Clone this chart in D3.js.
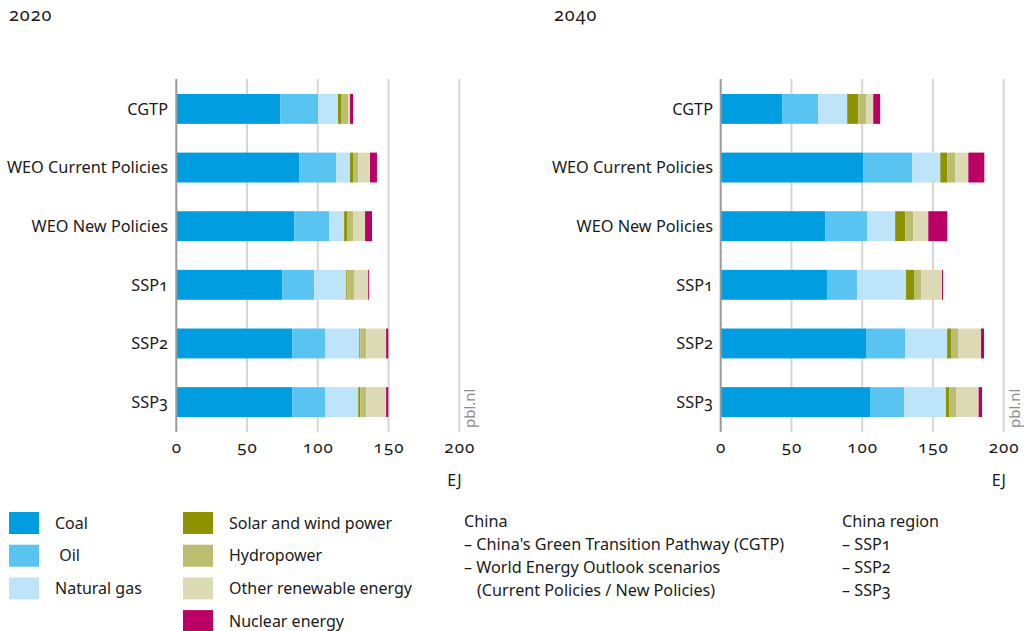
<!DOCTYPE html>
<html><head><meta charset="utf-8">
<script src="https://cdn.jsdelivr.net/npm/d3@7"></script>
<style>
body{margin:0;background:#fff;}
svg{font-family:"Noto Sans",sans-serif;font-variant-numeric:oldstyle-nums;font-feature-settings:"onum" 1;}
</style></head><body>
<svg id="c" width="1024" height="631"></svg>
<script>
const categories = ["CGTP","WEO Current Policies","WEO New Policies","SSP1","SSP2","SSP3"];
const sources = ["Coal","Oil","Natural gas","Solar and wind power","Hydropower","Other renewable energy","Nuclear energy"];
const legendLabels = ["Coal"," Oil","Natural gas","Solar and wind power","Hydropower","Other renewable energy","Nuclear energy"];
const colors = ["#009ee0","#59c4f1","#bee4f9","#8c9200","#bbbd71","#dcdbb6","#ba0064"];
const years = ["2020","2040"];
// values per category, order of sources (EJ)
const values2020 = [
  [73.4,26.8,14.1,2.1,5.2,1.2,2.1],
  [86.8,26.1,9.9,2.1,3.5,8.5,4.9],
  [83.3,24.7,10.6,2.1,4.2,8.5,4.9],
  [74.9,22.6,22.6,0.7,4.9,9.9,0.7],
  [81.9,23.3,24.1,0.7,4.2,14.1,1.5],
  [81.9,23.3,23.4,1.4,4.2,14.1,1.5]
];
const values2040 = [
  [43.4,25.5,20.5,7.8,5.6,5.0,4.9],
  [100.7,34.7,19.8,4.9,5.7,9.2,11.3],
  [73.8,29.7,19.8,7.1,5.7,10.6,13.4],
  [75.1,21.2,34.7,5.6,5.0,14.8,0.7],
  [102.7,27.6,29.7,2.8,4.9,16.3,2.1],
  [105.5,24.1,29.6,2.2,4.9,16.0,2.4]
];
const xTicks = [0,50,100,150,200];
const unit = "EJ";
const sourceLabel = "pbl.nl";
const noteLeft = ["China","– China's Green Transition Pathway (CGTP)","– World Energy Outlook scenarios","(Current Policies / New Policies)"];
const noteRight = ["China region","– SSP1","– SSP2","– SSP3"];

const svg = d3.select("#c");
const panels = [
  {year:years[0], data:values2020, x0:176.3, titleX:9, labelX:168},
  {year:years[1], data:values2040, x0:720.7, titleX:554, labelX:713}
];
const plotTop = 79, plotBottom = 432;

panels.forEach(p=>{
  const g = svg.append("g");
  const x = d3.scaleLinear().domain([0,200]).range([p.x0, p.x0+283]);
  const y = d3.scaleBand().domain(categories).range([plotTop,plotBottom]).paddingInner(0.49).paddingOuter(0.255);
  g.append("text").attr("x",p.titleX).attr("y",21).attr("font-size",18).attr("fill","#1a1a1a").attr("letter-spacing","1").text(p.year);
  g.selectAll("line.grid").data(xTicks.slice(1)).join("line")
    .attr("x1",d=>x(d)).attr("x2",d=>x(d)).attr("y1",plotTop).attr("y2",plotBottom)
    .attr("stroke","#d6d6d6").attr("stroke-width",2);
  p.data.forEach((row,i)=>{
    const stacked = d3.stack().keys(d3.range(row.length))([row]);
    stacked.forEach((s,k)=>{
      const d = s[0];
      g.append("rect").attr("x",x(d[0])).attr("width",x(d[1])-x(d[0]))
        .attr("y",y(categories[i])).attr("height",y.bandwidth()).attr("fill",colors[k]);
    });
  });
  g.append("line").attr("x1",x(0)).attr("x2",x(0)).attr("y1",plotTop).attr("y2",plotBottom)
    .attr("stroke","#9a9a9a").attr("stroke-width",2);
  g.selectAll("text.cat").data(categories).join("text")
    .attr("x",p.labelX).attr("y",d=>y(d)+y.bandwidth()/2).attr("dy","0.35em")
    .attr("text-anchor","end").attr("font-size",16.3).attr("fill","#1a1a1a").text(d=>d);
  const ax = d3.axisBottom(x).tickValues(xTicks).tickSize(0).tickPadding(0);
  const axg = g.append("g").attr("transform",`translate(0,${plotBottom+9})`).call(ax);
  axg.select(".domain").remove();
  axg.selectAll("text").attr("font-size",17).attr("fill","#1a1a1a").attr("font-family","Noto Sans").attr("letter-spacing","1");
  g.append("text").attr("x",x(200)-12).attr("y",486).attr("font-size",16).attr("fill","#1a1a1a").text(unit);
  g.append("text").attr("transform",`translate(${x(200)+16},${plotBottom-4}) rotate(-90)`)
    .attr("font-size",15).attr("fill","#8c8c8c").text(sourceLabel);
});

const lg = svg.append("g");
sources.forEach((s,i)=>{
  const col = i<3?0:1, row = i<3?i:i-3;
  const sx = col===0?9:183, sy = 512 + row*32.7;
  lg.append("rect").attr("x",sx).attr("y",sy).attr("width",30).attr("height",22).attr("fill",colors[i]);
  lg.append("text").attr("x",col===0?55:229).attr("y",sy+11).attr("dy","0.35em")
    .attr("font-size",16).attr("fill","#1a1a1a").style("white-space","pre").text(legendLabels[i]);
});
noteLeft.forEach((t,i)=>{
  lg.append("text").attr("x",i===3?477:464).attr("y",527+i*23).attr("font-size",16.2).attr("fill","#1a1a1a")
    .text(t);
});
noteRight.forEach((t,i)=>{
  lg.append("text").attr("x",842).attr("y",527+i*23).attr("font-size",16.2).attr("fill","#1a1a1a")
    .text(t);
});
</script></body></html>
